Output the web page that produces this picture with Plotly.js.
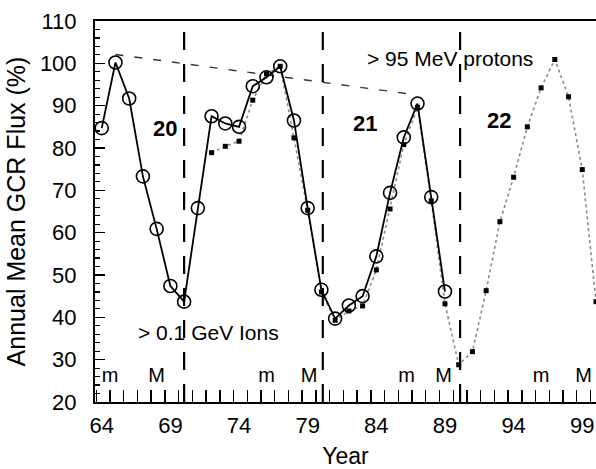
<!DOCTYPE html>
<html>
<head>
<meta charset="utf-8">
<script src="https://cdn.plot.ly/plotly-3.0.1.min.js"></script>
<style>html,body{margin:0;padding:0;background:#fff;}#chart{width:596px;height:469px;}</style>
</head>
<body>
<div id="chart"></div>
<script>
// > 0.1 GeV ions (open circles, solid line)
const ionYears = [64,65,66,67,68,69,70,71,72,73,74,75,76,77,78,79,80,81,82,83,84,85,86,87,88,89];
const ionFlux  = [84.7,100.2,91.7,73.3,60.9,47.4,43.7,65.8,87.5,85.8,85.0,94.6,96.7,99.3,86.5,65.8,46.5,39.7,42.8,45.0,54.4,69.4,82.5,90.5,68.4,46.1];
// > 95 MeV protons (small squares, dotted line)
const protonYears = [72,73,74,75,76,77,78,79,80,81,82,83,84,85,86,87,88,89,90,91,92,93,94,95,96,97,98,99,100];
const protonFlux  = [78.9,80.4,81.6,91.3,97.5,99.3,82.4,65.3,46.0,39.3,41.5,42.7,51.2,65.6,80.8,89.6,67.5,43.2,28.8,31.9,46.3,62.6,73.1,85.0,94.2,100.9,92.1,74.9,43.7];
// solar minimum (m) and maximum (M) markers
const minYears = [64.6,76,86.2,96];
const maxYears = [68,79.1,88.9,99.1];
// cycle boundaries and labels
const cycleBounds = [70,80.1,90.1];
const cycleNames = ["20","21","22"];
const cycleLabelX = [68.6,83.2,92.9];
const cycleLabelY = [84.7,85.8,86.4];
// long-term envelope (dashed)
const envYears = [65,86.8];
const envFlux = [102.1,92.6];
const xTickVals = [64,69,74,79,84,89,94,99];

const FONT = "Liberation Sans, Arial, Helvetica, sans-serif";

const traces = [
  {x: envYears, y: envFlux, mode: 'lines', type: 'scatter',
   line: {color: '#333', width: 1.4, dash: '8px,11px'}, hoverinfo: 'skip', showlegend: false},
  {x: protonYears, y: protonFlux, mode: 'lines+markers', type: 'scatter', name: '> 95 MeV protons',
   line: {color: '#8a8a8a', width: 1.6, dash: 'dot'},
   marker: {symbol: 'square', size: 5, color: '#000'}, cliponaxis: true, showlegend: false},
  {x: ionYears, y: ionFlux, mode: 'lines+markers', type: 'scatter', name: '> 0.1 GeV Ions',
   line: {color: '#000', width: 1.8},
   marker: {symbol: 'circle-open', size: 13, color: '#000', line: {width: 1.6, color: '#000'}}, showlegend: false},
  {x: minYears, y: minYears.map(() => 25.8), mode: 'text', type: 'scatter', text: minYears.map(() => 'm'),
   textfont: {family: FONT, size: 20, color: '#000'}, hoverinfo: 'skip', showlegend: false, cliponaxis: false},
  {x: maxYears, y: maxYears.map(() => 25.8), mode: 'text', type: 'scatter', text: maxYears.map(() => 'M'),
   textfont: {family: FONT, size: 20, color: '#000'}, hoverinfo: 'skip', showlegend: false, cliponaxis: false}
];

const shapes = cycleBounds.map(b => ({
  type: 'line', xref: 'x', yref: 'y', x0: b, x1: b, y0: 20, y1: 107.4,
  line: {color: '#000', width: 2.2, dash: '18px,14px'}
}));

const annotations = cycleNames.map((t, i) => ({
  x: cycleLabelX[i], y: cycleLabelY[i], xref: 'x', yref: 'y', text: '<b>' + t + '</b>',
  showarrow: false, font: {family: FONT, size: 22, color: '#000'}
})).concat([
  {x: 89.4, y: 101.2, xref: 'x', yref: 'y', text: '&gt; 95 MeV protons', showarrow: false,
   font: {family: FONT, size: 21, color: '#000'}},
  {x: 71.74, y: 36.4, xref: 'x', yref: 'y', text: '&gt; 0.1 GeV Ions', showarrow: false,
   font: {family: FONT, size: 21, color: '#000'}}
]);

const layout = {
  width: 596, height: 469, autosize: false,
  margin: {l: 95, r: 0, t: 21, b: 67, pad: 0},
  paper_bgcolor: '#fff', plot_bgcolor: '#fff',
  font: {family: FONT, color: '#000'},
  showlegend: false,
  xaxis: {
    range: [63.51, 100.0], tickmode: 'array', tickvals: xTickVals, ticktext: xTickVals.map(String),
    ticks: '', ticklabelstandoff: 3, tickfont: {family: FONT, size: 22, color: '#000'},
    showline: true, linewidth: 2, linecolor: '#000', mirror: true,
    showgrid: false, zeroline: false,
    minor: {tickmode: 'linear', tick0: 64.6, dtick: 1, ticks: 'inside', ticklen: 12, tickwidth: 1.4, tickcolor: '#000', showgrid: false},
    title: {text: 'Year', font: {family: FONT, size: 23, color: '#000'}, standoff: 19}
  },
  yaxis: {
    range: [20, 110], tickmode: 'linear', tick0: 20, dtick: 10,
    ticks: 'inside', ticklen: 10, tickwidth: 1.5, tickcolor: '#000',
    ticklabelstandoff: 12, tickfont: {family: FONT, size: 22, color: '#000'},
    showline: true, linewidth: 2, linecolor: '#000', mirror: false,
    showgrid: false, zeroline: false,
    minor: {dtick: 2, ticks: 'inside', ticklen: 5, tickwidth: 1.2, tickcolor: '#000', showgrid: false},
    title: {text: 'Annual Mean GCR Flux (%)', font: {family: FONT, size: 25, color: '#000'}, standoff: 7}
  },
  shapes: shapes,
  annotations: annotations
};

Plotly.newPlot('chart', traces, layout, {staticPlot: true, displayModeBar: false});
</script>
</body>
</html>
